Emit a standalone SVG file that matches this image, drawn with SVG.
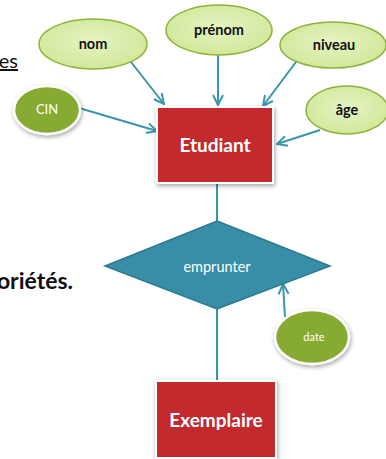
<svg xmlns="http://www.w3.org/2000/svg" width="386" height="459" viewBox="0 0 386 459">
  <style>
    .attr { fill: url(#lightGreen); stroke: #8db23a; stroke-width: 1.5; }
    .key { fill: #87aa33; stroke: #ffffff; stroke-width: 2.5; }
    .entity { fill: #c22a2e; stroke: #ffffff; stroke-width: 2; }
    .rel { fill: #388ea6; stroke: #2e7a8f; stroke-width: 1.5; }
    .lbl { font-family: Lato, "Open Sans", sans-serif; font-weight: bold; font-size: 14.5px; fill: #111111; text-anchor: middle; }
    .klbl { font-family: Lato, "Open Sans", sans-serif; font-size: 13px; fill: #ffffff; text-anchor: middle; }
    .elbl { font-family: Lato, "Open Sans", sans-serif; font-weight: bold; font-size: 19px; fill: #ffffff; text-anchor: middle; }
    .rlbl { font-family: Lato, "Open Sans", sans-serif; font-size: 14.5px; fill: #ffffff; text-anchor: middle; }
    .side { font-family: Lato, "Open Sans", sans-serif; font-size: 20px; fill: #111111; }
    .side.bold { font-weight: bold; font-size: 23px; }
    .klbl.small { font-size: 11px; }
    .conn { stroke: #3a96ad; stroke-width: 2; fill: none; }
  </style>
  <defs>
    <radialGradient id="lightGreen" cx="50%" cy="45%" r="60%">
      <stop offset="0" stop-color="#e6f3c4"/>
      <stop offset="1" stop-color="#cfe796"/>
    </radialGradient>
    <marker id="arrow" viewBox="0 0 12 12" refX="11" refY="6" markerWidth="12" markerHeight="12" markerUnits="userSpaceOnUse" orient="auto">
      <path d="M1,1 L11,6 L1,11" fill="none" stroke="#3a96ad" stroke-width="2"/>
    </marker>
    <filter id="shadow" x="-20%" y="-20%" width="140%" height="140%">
      <feDropShadow dx="1" dy="2" stdDeviation="2" flood-color="#000000" flood-opacity="0.35"/>
    </filter>
  </defs>

  <!-- surrounding slide text, partly off the edge -->
  <text class="side" x="18" y="68" text-anchor="end" text-decoration="underline">es</text>
  <text class="side bold" x="73" y="289" text-anchor="end">oriétés.</text>

  <g id="connectors">
    <line class="conn" x1="131" y1="62" x2="164" y2="104" marker-end="url(#arrow)"/>
    <line class="conn" x1="218" y1="55" x2="218" y2="105" marker-end="url(#arrow)"/>
    <line class="conn" x1="296" y1="62" x2="263" y2="106" marker-end="url(#arrow)"/>
    <line class="conn" x1="320" y1="130" x2="277" y2="144" marker-end="url(#arrow)"/>
    <line class="conn" x1="79" y1="108" x2="157" y2="131" marker-end="url(#arrow)"/>
    <line class="conn" x1="217" y1="184" x2="217" y2="221"/>
    <line class="conn" x1="217" y1="309" x2="217" y2="381"/>
    <line class="conn" x1="285" y1="317" x2="283" y2="284" marker-end="url(#arrow)"/>
  </g>

  <g id="nom">
    <ellipse class="attr" cx="93" cy="44" rx="54" ry="25"/>
    <text class="lbl" x="93" y="49">nom</text>
  </g>
  <g id="prenom">
    <ellipse class="attr" cx="219" cy="30" rx="53" ry="25"/>
    <text class="lbl" x="219" y="35">prénom</text>
  </g>
  <g id="niveau">
    <ellipse class="attr" cx="333" cy="45" rx="53" ry="23"/>
    <text class="lbl" x="334" y="50">niveau</text>
  </g>
  <g id="age">
    <ellipse class="attr" cx="347" cy="110" rx="41" ry="24"/>
    <text class="lbl" x="347" y="115">âge</text>
  </g>
  <g id="cin">
    <ellipse class="key" cx="47" cy="110" rx="33" ry="24" filter="url(#shadow)"/>
    <text class="klbl" x="47" y="114">CIN</text>
  </g>
  <g id="etudiant">
    <rect class="entity" x="157" y="107" width="116" height="76" filter="url(#shadow)"/>
    <text class="elbl" x="215" y="152">Etudiant</text>
  </g>
  <g id="emprunter">
    <polygon class="rel" points="217,221 330,266 217,309 105,266"/>
    <text class="rlbl" x="217" y="272">emprunter</text>
  </g>
  <g id="date">
    <ellipse class="key" cx="312" cy="337" rx="37" ry="27" filter="url(#shadow)"/>
    <text class="klbl small" x="314" y="341">date</text>
  </g>
  <g id="exemplaire">
    <rect class="entity" x="156" y="381" width="120" height="77" filter="url(#shadow)"/>
    <text class="elbl" x="216" y="427">Exemplaire</text>
  </g>
</svg>
